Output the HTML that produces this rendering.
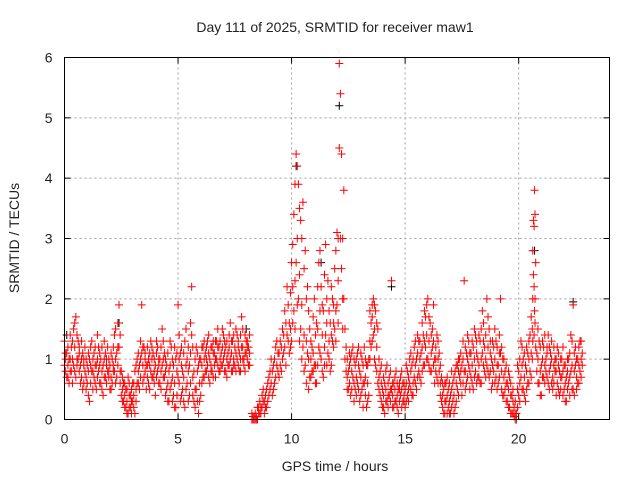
<!DOCTYPE html>
<html><head><meta charset="utf-8"><style>
body{margin:0;background:#fff}
svg{display:block;font-family:"Liberation Sans",sans-serif}
</style></head><body>
<svg id="chart" width="640" height="480" xmlns="http://www.w3.org/2000/svg">
<rect width="640" height="480" fill="#fff"/>
<text x="335" y="32" text-anchor="middle" font-size="14" fill="#222">Day 111 of 2025, SRMTID for receiver maw1</text>
<text x="335" y="471" text-anchor="middle" font-size="14" fill="#222">GPS time / hours</text>
<text transform="translate(19,238) rotate(-90)" text-anchor="middle" font-size="14" fill="#222">SRMTID / TECUs</text>
<g id="grid"></g>
<g id="ticks"></g>
<g id="black"></g>
<g id="red"></g>
<rect x="64.5" y="57.5" width="545" height="362" fill="none" stroke="#000" stroke-width="1"/>
</svg>
<script>
const xTicks=[0,5,10,15,20];
const yTicks=[0,1,2,3,4,5,6];
const redSamples=[[0,.9,1.3],[0.1,.7,1.1],[0.2,1.0,.6],[0.3,1.2,.8],[0.4,1.5,.9],[0.5,1.7,.7],[0.6,1.3,1.0],[0.7,.6,.9],[0.8,1.1,.5],[0.9,.8,1.2],[1.0,.6,.9],[1.1,.3,1.0],[1.2,.8,1.3],[1.3,.7,1.1],[1.4,.5,.9],[1.5,1.2,.8],[1.6,.6,1.0],[1.7,.9,.4],[1.8,1.1,.7],[1.9,.8,1.2],[2.0,.5,.9],[2.1,1.0,.6],[2.2,1.4,.8],[2.3,.7,1.1],[2.4,1.9,1.2],[2.5,.4,.8],[2.6,.3,.6],[2.7,.2,.5],[2.8,.1,.7],[2.9,.4,.2],[3.0,.3,.6],[3.1,.8,.1],[3.2,.6,1.0],[3.3,.9,.5],[3.4,1.9,1.1],[3.5,.7,1.2],[3.6,.9,.5],[3.7,1.0,.6],[3.8,.8,1.3],[3.9,1.1,.7],[4.0,.9,.4],[4.1,1.2,.8],[4.2,.6,1.0],[4.3,1.5,.9],[4.4,.7,1.1],[4.5,.5,.9],[4.6,.3,.8],[4.7,.6,1.2],[4.8,.4,.9],[4.9,1.0,.2],[5.0,1.9,.7],[5.1,.3,1.1],[5.2,.5,.8],[5.3,1.3,.2],[5.4,.6,1.0],[5.5,.4,.9],[5.6,2.2,1.4],[5.7,.8,.3],[5.8,1.2,.5],[5.9,.1,.9],[6.0,1.0,.4],[6.1,.7,1.2],[6.2,1.1,.8],[6.3,.9,1.3],[6.4,1.0,.6],[6.5,1.2,.8],[6.6,.9,1.1],[6.7,1.3,1.0],[6.8,.8,1.2],[6.9,1.1,.9],[7.0,1.0,1.4],[7.1,.8,1.2],[7.2,1.1,.9],[7.3,1.6,1.0],[7.4,.8,1.3],[7.5,1.2,.9],[7.6,1.0,1.4],[7.7,1.1,.8],[7.8,1.7,1.2],[7.9,.9,1.0],[8.0,1.3,1.1],[8.1,1.2,.9],[8.3,0,0.05],[8.4,0,0.1],[8.5,0,0.2],[8.6,0.1,0.3],[8.7,.2,.4],[8.8,.3,.1],[8.9,.5,.2],[9.0,.7,.4],[9.1,.6,1.0],[9.2,.9,.5],[9.3,1.2,.7],[9.4,.8,1.1],[9.5,1.3,.9],[9.6,1.5,1.0],[9.7,1.8,1.2],[9.8,2.2,1.4],[9.9,1.6,1.1],[10.0,2.6,1.3],[10.1,3.4,1.8],[10.2,4.4,2.6],[10.3,3.9,2.0],[10.4,3.3,1.5],[10.5,3.6,1.2],[10.6,2.8,.9],[10.7,2.2,1.1],[10.8,1.5,.7],[10.9,1.2,.8],[11.0,2.0,.9],[11.1,1.6,.6],[11.2,2.6,1.2],[11.3,2.2,1.0],[11.4,1.8,.7],[11.5,2.9,1.4],[11.6,2.3,1.1],[11.7,1.6,.8],[11.8,2.0,1.3],[11.9,2.5,1.5],[12.0,3.1,1.9],[12.1,5.9,4.5],[12.15,5.4,3.0],[12.2,4.4,2.5],[12.3,3.8,2.0],[12.35,1.5,1.0],[12.4,1.2,.8],[12.5,.8,.5],[12.6,1.0,.4],[12.7,.7,1.2],[12.8,.9,.5],[12.9,1.1,.6],[13.0,.8,.3],[13.1,1.0,.5],[13.2,.6,1.2],[13.3,.9,.2],[13.4,1.0,.4],[13.5,1.6,1.2],[13.6,2.0,1.4],[13.7,1.8,.9],[13.8,1.5,.6],[13.9,.8,.4],[14.0,.5,.2],[14.1,.6,.1],[14.2,.9,.3],[14.3,.4,.7],[14.4,2.3,.5],[14.5,.6,.2],[14.6,.3,.8],[14.7,.5,.1],[14.8,.4,.7],[14.9,.3,.6],[15.0,.5,.2],[15.1,.8,.4],[15.2,.6,1.0],[15.3,.4,.9],[15.4,.7,1.2],[15.5,1.0,.5],[15.6,1.3,.8],[15.7,1.1,.6],[15.8,1.4,.9],[15.9,1.7,1.2],[16.0,2.0,1.0],[16.1,1.6,.8],[16.2,1.2,1.5],[16.3,1.0,.6],[16.4,1.4,.7],[16.5,.8,1.1],[16.6,.3,.7],[16.7,.1,.5],[16.8,.3,.6],[16.9,.2,.5],[17.0,.4,.1],[17.1,.6,.3],[17.2,.2,.8],[17.3,.5,.9],[17.4,.7,1.0],[17.5,.9,.4],[17.6,2.3,.8],[17.7,1.1,.6],[17.8,.9,1.3],[17.9,.7,1.1],[18.0,1.2,.5],[18.1,.8,1.4],[18.2,1.0,.7],[18.3,1.3,.6],[18.4,1.1,1.8],[18.5,.8,1.2],[18.6,2.0,.9],[18.7,1.5,.7],[18.8,1.0,.5],[18.9,1.2,.8],[19.0,.7,1.3],[19.1,.9,.6],[19.2,2.0,1.1],[19.3,1.0,.4],[19.4,.5,.8],[19.5,.3,.6],[19.6,.7,.2],[19.7,.4,.1],[19.8,.2,.05],[19.9,0,0.1],[20.0,.4,.8],[20.1,1.3,.7],[20.2,.5,1.0],[20.3,.9,.3],[20.4,1.1,.6],[20.5,.8,1.4],[20.6,1.5,1.0],[20.65,3.3,2.4],[20.7,3.8,1.8],[20.75,2.6,1.2],[20.8,1.1,.8],[20.9,.6,1.3],[21.0,.9,.4],[21.1,1.2,.7],[21.2,.8,1.0],[21.3,1.4,.6],[21.4,.9,1.1],[21.5,.7,.5],[21.6,1.0,.8],[21.7,.6,1.2],[21.8,.8,.4],[21.9,1.0,.7],[22.0,.5,.9],[22.1,.7,.3],[22.2,1.0,.6],[22.3,1.4,.8],[22.4,1.9,.5],[22.5,.9,1.2],[22.6,.6,1.0],[22.7,1.3,.8],[22.8,.9,1.1]];
const redSamplesB=[[0.05,1.1,.8,1.0],[0.15,.9,1.2,.7],[0.25,.8,1.0,1.4],[0.35,1.0,.6,1.3],[0.45,1.2,.8,1.6],[0.55,1.0,1.4,.9],[0.65,.8,1.1,1.2],[0.75,1.0,.7,1.3],[0.85,.9,.6,1.0],[0.95,1.0,.7,.5],[1.05,.8,1.1,.4],[1.15,.9,.6,1.2],[1.25,1.0,.5,.8],[1.35,.9,1.2,.6],[1.45,.7,1.0,1.4],[1.55,.9,1.1,.6],[1.65,.8,1.2,.5],[1.75,.7,1.0,1.3],[1.85,.9,.6,1.0],[1.95,1.0,.7,.8],[2.05,.7,1.1,.5],[2.15,.8,1.2,.9],[2.25,1.0,.6,1.5],[2.35,1.2,.9,1.6],[2.45,1.4,.8,.6],[2.55,.5,.3,.7],[2.65,.4,.6,.2],[2.75,.3,.5,.1],[2.85,.4,.2,.6],[2.95,.5,.3,.1],[3.05,.6,.2,.4],[3.15,.5,.9,.3],[3.25,.8,1.1,.6],[3.35,.7,1.0,1.3],[3.45,.9,1.2,.6],[3.55,1.0,.8,1.1],[3.65,.7,1.2,.9],[3.75,.9,1.1,.5],[3.85,1.0,.7,1.2],[3.95,.8,1.0,.6],[4.05,1.1,.7,1.3],[4.15,.9,.6,1.0],[4.25,.8,1.2,.5],[4.35,1.0,.7,1.3],[4.45,.8,1.0,.4],[4.55,.6,1.1,.3],[4.65,.9,.5,1.3],[4.75,.7,1.0,.3],[4.85,.6,1.2,.2],[4.95,.8,.4,1.1],[5.05,.6,1.0,1.4],[5.15,.9,.4,1.2],[5.25,.7,1.1,.3],[5.35,.9,.5,1.5],[5.45,.8,1.2,.3],[5.55,1.1,.6,1.6],[5.65,.7,1.2,.4],[5.75,1.0,.5,.2],[5.85,.8,.3,1.1],[5.95,.6,1.0,.3],[6.05,.9,1.2,.6],[6.15,1.0,.7,1.3],[6.25,.8,1.2,1.0],[6.35,1.1,.7,1.4],[6.45,.9,1.2,.8],[6.55,1.1,.7,1.3],[6.65,1.0,1.3,.7],[6.75,.9,1.2,1.5],[6.85,1.0,1.3,.8],[6.95,1.2,.9,1.5],[7.05,1.1,.8,1.3],[7.15,1.0,1.3,.7],[7.25,1.2,.9,1.4],[7.35,1.1,.8,1.3],[7.45,1.0,1.4,.9],[7.55,1.1,.8,1.5],[7.65,1.3,.9,1.2],[7.75,1.0,1.4,.8],[7.85,1.2,1.5,1.0],[7.95,1.1,1.4,.8],[8.05,1.0,1.3,1.2],[8.15,1.1,1.4,.9],[8.25,0,.1],[8.35,0,.05],[8.45,.05,0],[8.55,.1,.2],[8.65,.2,.1],[8.75,.3,.5],[8.85,.4,.2],[8.95,.6,.3],[9.05,.5,.8],[9.15,.8,.4],[9.25,1.0,.6],[9.35,.9,1.3],[9.45,1.1,.7],[9.55,1.2,.8],[9.65,1.4,1.1],[9.75,1.6,.9],[9.85,1.9,1.3],[9.95,2.1,1.5,1.2],[10.05,2.9,1.6,2.2],[10.15,3.9,2.3,1.5],[10.25,4.2,3.0,1.9],[10.35,3.5,2.4,1.3],[10.45,3.0,1.9,1.0],[10.55,2.5,1.4,.8],[10.65,2.0,1.3,.6],[10.75,1.8,1.0,.5],[10.85,1.3,1.0,.7],[10.95,1.7,1.1,.8],[11.05,1.4,.9,.6],[11.15,2.2,1.5,.9],[11.25,2.8,1.8,1.1],[11.35,1.9,1.4,.8],[11.45,2.4,1.2,.9],[11.55,2.0,1.6,.9],[11.65,1.8,1.3,1.0],[11.75,2.2,1.4,.9],[11.85,1.9,1.2,1.6],[11.95,2.8,1.8,1.3],[12.05,3.0,2.3,1.6],[12.25,3.0,2.0,1.5],[12.45,1.0,.7,.5],[12.55,1.1,.6,.9],[12.65,.8,1.1,.5],[12.75,1.0,.6,.3],[12.85,.7,1.0,.4],[12.95,.9,.5,1.2],[13.05,.7,1.1,.4],[13.15,.9,.6,.2],[13.25,.7,1.0,.4],[13.35,.6,.9,.3],[13.45,1.3,1.8,1.0],[13.55,1.7,1.3,1.9],[13.65,1.5,1.0,1.9],[13.75,1.2,.8,1.6],[13.85,1.0,.5,.7],[13.95,.6,.3,.9],[14.05,.4,.7,.2],[14.15,.5,.3,.8],[14.25,.6,.2,.4],[14.35,.5,.8,.3],[14.45,.4,.6,.2],[14.55,.5,.3,.7],[14.65,.4,.6,.2],[14.75,.3,.6,.5],[14.85,.5,.2,.8],[14.95,.4,.6,.3],[15.05,.6,.3,.9],[15.15,.5,.7,.3],[15.25,.8,.5,1.1],[15.35,.6,1.0,.4],[15.45,.9,1.3,.6],[15.55,1.1,.7,1.4],[15.65,1.0,1.3,.7],[15.75,1.2,.8,1.6],[15.85,1.3,.9,1.8],[15.95,1.4,1.0,1.9],[16.05,1.3,.9,1.7],[16.15,1.1,.8,1.4],[16.25,1.3,.9,1.9],[16.35,1.2,.8,1.0],[16.45,1.0,.6,1.3],[16.55,.6,.4,.9],[16.65,.4,.2,.6],[16.75,.3,.6,.1],[16.85,.4,.1,.7],[16.95,.3,.6,.1],[17.05,.5,.2,.8],[17.15,.4,.7,.1],[17.25,.6,.3,.9],[17.35,.8,.4,1.0],[17.45,.6,1.1,.8],[17.55,1.0,.6,1.3],[17.65,.8,1.2,.5],[17.75,1.0,.7,1.4],[17.85,.8,1.1,.5],[17.95,.9,1.3,.6],[18.05,1.0,.7,1.5],[18.15,1.1,.6,1.3],[18.25,.9,1.4,.7],[18.35,1.0,1.5,.6],[18.45,1.3,.9,1.6],[18.55,1.0,1.4,.7],[18.65,1.2,.8,1.7],[18.75,1.1,.8,1.3],[18.85,.9,1.3,.6],[18.95,1.0,.6,1.5],[19.05,.9,.5,1.2],[19.15,1.1,.7,1.4],[19.25,.8,1.2,.5],[19.35,.7,1.0,.4],[19.45,.6,.3,.9],[19.55,.5,.2,.8],[19.65,.4,.1,.6],[19.75,.3,.1,.5],[19.85,.1,0,.3],[19.95,.5,.2,.9],[20.05,.6,1.0,.3],[20.15,.9,.5,1.2],[20.25,.7,1.1,.4],[20.35,.8,1.2,.5],[20.45,1.0,.6,1.3],[20.55,1.1,.7,1.7],[20.62,2.0,1.3,2.8],[20.68,3.2,2.2,1.4],[20.72,3.4,1.6,2.0],[20.85,1.0,1.5,.6],[20.95,.8,1.2,.4],[21.05,1.0,.7,1.3],[21.15,.9,1.4,.6],[21.25,1.1,.7,1.2],[21.35,.8,1.2,.5],[21.45,1.0,.6,1.3],[21.55,.9,1.2,.6],[21.65,.8,1.0,.4],[21.75,.9,.5,1.1],[21.85,.7,1.0,.5],[21.95,.8,.4,1.2],[22.05,.6,.9,.3],[22.15,.8,.5,1.0],[22.25,.7,1.1,.4],[22.35,.9,.5,1.3],[22.45,.8,1.1,.4],[22.55,.7,1.0,.5],[22.65,.9,.6,1.2],[22.75,1.0,.7,1.3]];
const blackSamples=[[0.1,1.4],[2.4,1.6],[8.0,1.5],[10.2,4.2],[11.3,2.6],[12.1,5.2],[14.4,2.2],[20.7,2.8],[22.4,1.95]];
const X0=64.5,X1=609.5,Y0=419.5,Y1=57.5,XMAX=24,YMAX=6;
function sx(h){return X0+(X1-X0)*h/XMAX;}
function sy(v){return Y0-(Y0-Y1)*v/YMAX;}
const NS="http://www.w3.org/2000/svg";
const grid=document.getElementById('grid'),ticks=document.getElementById('ticks');
function mk(tag,attrs,parent){const e=document.createElementNS(NS,tag);for(const k in attrs)e.setAttribute(k,attrs[k]);parent.appendChild(e);return e;}
xTicks.forEach(t=>{
  const x=sx(t);
  if(t>0){const g=mk('line',{x1:x,x2:x,y1:Y0,y2:Y1,stroke:'#a0a0a0','stroke-dasharray':'2,3'},grid);
  
  }
  mk('line',{x1:x,x2:x,y1:Y0,y2:Y0-6,stroke:'#000'},ticks);
  mk('line',{x1:x,x2:x,y1:Y1,y2:Y1+6,stroke:'#000'},ticks);
  const l=mk('text',{x:x,y:Y0+24,'text-anchor':'middle','font-size':14,fill:'#222'},ticks);
  l.textContent=t;
  
  
});
yTicks.forEach(t=>{
  const y=sy(t);
  if(t>0&&t<6){const g=mk('line',{x1:X0,x2:X1,y1:y,y2:y,stroke:'#a0a0a0','stroke-dasharray':'2,3'},grid);
  
  }
  mk('line',{x1:X0,x2:X0+6,y1:y,y2:y,stroke:'#000'},ticks);
  mk('line',{x1:X1,x2:X1-6,y1:y,y2:y,stroke:'#000'},ticks);
  const l=mk('text',{x:X0-12,y:y+5,'text-anchor':'end','font-size':14,fill:'#222'},ticks);
  l.textContent=t;
  
  
});
function plus(h,v,color,parent){
  const x=sx(h),y=sy(v);
  const p=mk('path',{d:`M${x-4},${y}H${x+4}M${x},${y-4}V${y+4}`,stroke:color,'stroke-width':1,fill:'none'},parent);
  
  
}
const bg=document.getElementById('black'),rg=document.getElementById('red');
blackSamples.forEach(s=>plus(s[0],s[1],'#000',bg));
redSamples.forEach(s=>{for(let i=1;i<s.length;i++)plus(s[0],s[i],'#f00',rg);});
redSamplesB.forEach(s=>{for(let i=1;i<s.length;i++)plus(s[0],s[i],'#f00',rg);});
</script>
</body></html>
